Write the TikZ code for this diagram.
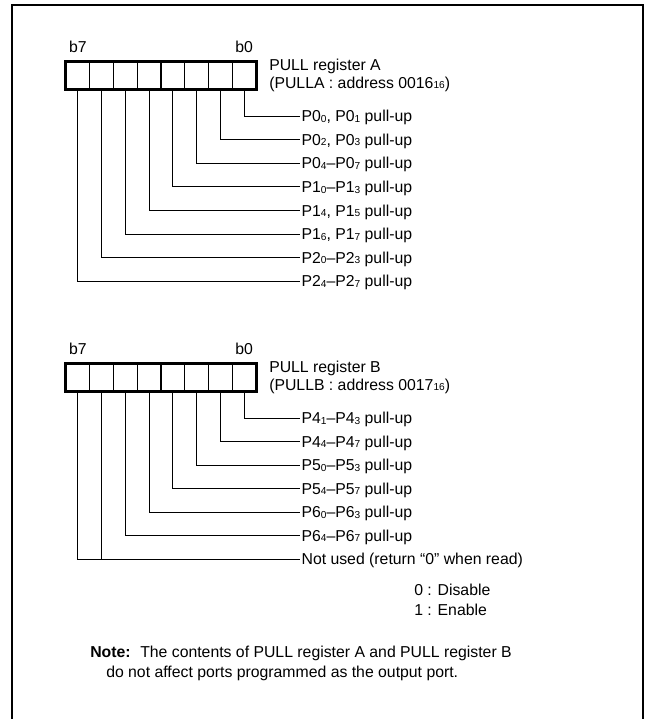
\documentclass[tikz,border=0pt]{standalone}
\usepackage{fontspec}
\setmainfont{Liberation Sans}
\usepackage{tikz}
\usetikzlibrary{positioning}
\newcommand{\regfont}{\fontsize{11.85pt}{14pt}\selectfont}
\newcommand{\psub}[1]{\raisebox{-0.4pt}{\fontsize{7.6pt}{8pt}\selectfont #1}}
\tikzset{
  cell/.style={rectangle, draw, line width=0.9pt,
    minimum width=17.8pt, minimum height=20.25pt, inner sep=0pt},
  regbox/.style={draw, line width=1.6pt},
  bitlbl/.style={inner sep=0pt, font=\regfont},
  regtitle/.style={anchor=base west, inner sep=0pt, font=\regfont},
  plbl/.style={anchor=west, inner sep=0pt, inner xsep=1pt,
    text height=8.5pt, text depth=0pt, font=\regfont},
  lead/.style={line width=0.75pt},
  frame/.style={line width=1.5pt}
}

\begin{document}
\begin{tikzpicture}[x=0.75pt, y=-0.75pt]
  \useasboundingbox (0,0) rectangle (645,719);
  \draw[frame] (12,740) -- (12,5) -- (643,5) -- (643,740);

  % PULL register A
  \foreach \i in {0,...,7}
    \node[cell] (a\i) at ({66+23.75*(7.5-\i)},75.5) {};
  \draw[regbox] (a7.north west) rectangle (a0.south east);
  \node[bitlbl, above=6.5pt of a7] (a7lbl) {b7};
  \node[bitlbl, above=6.5pt of a0] (a0lbl) {b0};
  \node[regtitle] (titlea) at (269,70) {PULL register A};
  \node[regtitle] (addra) at (269,88) {(PULLA : address 0016\psub{16})};

  \foreach \i/\t in {0/{P0\psub{0}, P0\psub{1} pull-up},
                     1/{P0\psub{2}, P0\psub{3} pull-up},
                     2/{P0\psub{4}--P0\psub{7} pull-up},
                     3/{P1\psub{0}--P1\psub{3} pull-up},
                     4/{P1\psub{4}, P1\psub{5} pull-up},
                     5/{P1\psub{6}, P1\psub{7} pull-up},
                     6/{P2\psub{0}--P2\psub{3} pull-up},
                     7/{P2\psub{4}--P2\psub{7} pull-up}}
  {
    \node[plbl] (la\i) at (300,{116+23.6*\i}) {\t};
    \draw[lead] (a\i.south) |- (la\i.west);
  }

  % PULL register B
  \foreach \i in {0,...,7}
    \node[cell] (b\i) at ({66+23.75*(7.5-\i)},377.5) {};
  \draw[regbox] (b7.north west) rectangle (b0.south east);
  \node[bitlbl, above=6.5pt of b7] (b7lbl) {b7};
  \node[bitlbl, above=6.5pt of b0] (b0lbl) {b0};
  \node[regtitle] (titleb) at (269,372) {PULL register B};
  \node[regtitle] (addrb) at (269,390) {(PULLB : address 0017\psub{16})};

  \foreach \i/\t in {0/{P4\psub{1}--P4\psub{3} pull-up},
                     1/{P4\psub{4}--P4\psub{7} pull-up},
                     2/{P5\psub{0}--P5\psub{3} pull-up},
                     3/{P5\psub{4}--P5\psub{7} pull-up},
                     4/{P6\psub{0}--P6\psub{3} pull-up},
                     5/{P6\psub{4}--P6\psub{7} pull-up}}
  {
    \node[plbl] (lb\i) at (300,{418+23.5*\i}) {\t};
    \draw[lead] (b\i.south) |- (lb\i.west);
  }
  \node[plbl] (unused) at (300,559) {Not used (return ``0'' when read)};
  \draw[lead] (b7.south) |- (unused.west);
  \draw[lead] (b6.south) -- (b6.south |- unused.west);

  % legend
  \node[regtitle] (dis) at (414,595) {0 : Disable};
  \node[regtitle] (ena) at (414,615) {1 : Enable};

  % note
  \node[regtitle] (notehd) at (90,657) {\textbf{Note:}};
  \node[regtitle] (note1) at (140,657) {The contents of PULL register A and PULL register B};
  \node[regtitle] (note2) at (106,677) {do not affect ports programmed as the output port.};
\end{tikzpicture}
\end{document}
